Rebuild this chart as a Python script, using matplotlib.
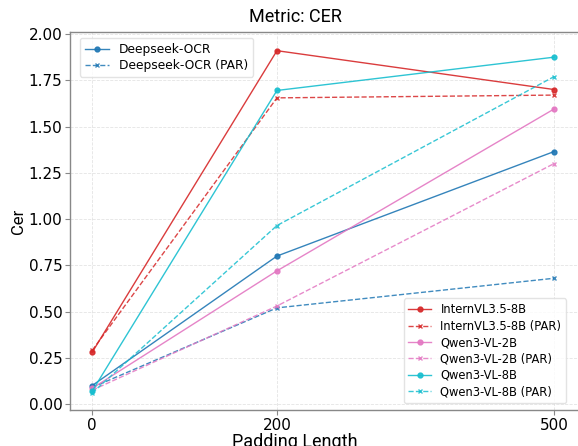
import matplotlib
matplotlib.use("Agg")
import matplotlib.pyplot as plt

padding = [0, 200, 500]

deepseek = [0.10, 0.80, 1.365]
deepseek_par = [0.09, 0.52, 0.68]
intern = [0.28, 1.91, 1.70]
intern_par = [0.29, 1.655, 1.67]
qwen2b = [0.085, 0.72, 1.595]
qwen2b_par = [0.075, 0.53, 1.30]
qwen8b = [0.07, 1.695, 1.875]
qwen8b_par = [0.06, 0.965, 1.77]

W, H = 578, 446
fig = plt.figure(figsize=(W / 100, H / 100), dpi=100)
ax_l, ax_r, ax_t, ax_b = 70, 580, 32, 410
ax = fig.add_axes([ax_l / W, 1 - ax_b / H, (ax_r - ax_l) / W, (ax_b - ax_t) / H])

def plot(vals, color, label, par):
    if par:
        return ax.plot(padding, vals, color=color, ls='--', lw=1.0, marker='x', ms=3.5,
                       mew=1.0, alpha=0.85, label=label)[0]
    return ax.plot(padding, vals, color=color, ls='-', lw=1.0, marker='o', ms=3.5,
                   alpha=0.9, label=label)[0]

h1 = plot(deepseek, '#1f77b4', 'Deepseek-OCR', False)
h2 = plot(deepseek_par, '#1f77b4', 'Deepseek-OCR (PAR)', True)
h3 = plot(intern, '#d62728', 'InternVL3.5-8B', False)
h4 = plot(intern_par, '#d62728', 'InternVL3.5-8B (PAR)', True)
h5 = plot(qwen2b, '#e377c2', 'Qwen3-VL-2B', False)
h6 = plot(qwen2b_par, '#e377c2', 'Qwen3-VL-2B (PAR)', True)
h7 = plot(qwen8b, '#17becf', 'Qwen3-VL-8B', False)
h8 = plot(qwen8b_par, '#17becf', 'Qwen3-VL-8B (PAR)', True)

yt = [0, 0.25, 0.5, 0.75, 1.0, 1.25, 1.5, 1.75, 2.0]
ax.set_xticks(padding)
ax.set_xlim(-24, 528)
ax.set_ylim(-0.032, 2.011)
ax.set_yticks(yt)
ax.set_yticklabels([f"{v:.2f}" for v in yt])
ax.tick_params(labelsize=11, length=3.5, width=0.8, color='#888888', pad=2)
ax.grid(True, ls='--', lw=0.6, color='#dddddd', alpha=0.8)
for s in ['left', 'bottom', 'top']:
    ax.spines[s].set_color('#888888')
    ax.spines[s].set_linewidth(1.0)
ax.spines['right'].set_visible(False)

cx = (295 - ax_l) / (ax_r - ax_l)
ax.set_title('Metric: CER', fontsize=13, family='Roboto', x=cx, pad=7)
ax.set_ylabel('Cer', fontsize=12, family='Roboto', labelpad=2)
ax.set_xlabel('Padding Length', fontsize=13, family='Roboto')
ax.xaxis.set_label_coords(cx, -(433 - ax_b) / (ax_b - ax_t))

def axc(px, py):
    return ((px - ax_l) / (ax_r - ax_l), (ax_b - py) / (ax_b - ax_t))

leg1 = ax.legend(handles=[h1, h2], loc='upper left', bbox_to_anchor=axc(80, 38),
                 fontsize=8.8, framealpha=0.8, edgecolor='#dddddd', borderaxespad=0,
                 labelspacing=0.25)
ax.add_artist(leg1)
ax.legend(handles=[h3, h4, h5, h6, h7, h8], loc='lower right', bbox_to_anchor=axc(566, 403),
          fontsize=8.3, framealpha=0.8, edgecolor='#dddddd', borderaxespad=0,
          labelspacing=0.3)

fig.savefig('out.png', dpi=100)
